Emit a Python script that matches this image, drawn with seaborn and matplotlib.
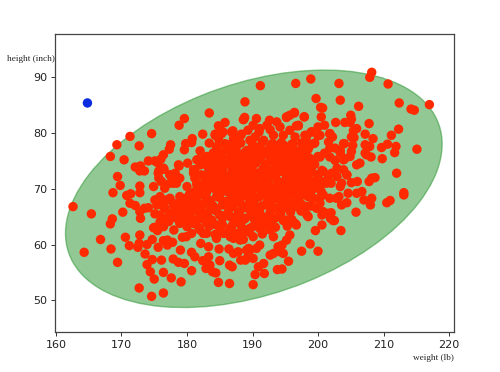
import matplotlib
matplotlib.use('Agg')
import matplotlib.pyplot as plt
from matplotlib.patches import Ellipse
import seaborn as sns

# outlier point, drawn in blue
blue_weight = [164.8]
blue_height = [85.4]

# points, same order in both lists
red_weight = [
    188.85, 183.4, 179.6, 178.8, 174.6, 171.3, 169.3, 172.7, 168.3, 170.4,
    180.8, 182.4, 179.8, 180.7, 179.6, 183.4, 177.5, 177.3, 182.0, 176.4,
    176.0, 175.1, 174.1, 175.5, 172.9, 172.1, 172.8, 173.5, 176.5, 175.7,
    178.8, 180.1, 169.4, 169.8, 175.7, 176.1, 177.4, 178.2, 172.8, 174.9,
    177.4, 178.4, 185.0, 185.8, 184.8, 187.0, 188.7, 188.8, 185.5, 184.3,
    184.8, 188.2, 187.3, 186.6, 186.1, 184.6, 185.3, 184.0, 182.2, 181.5,
    182.0, 183.0, 183.8, 183.3, 184.3, 185.0, 186.6, 186.8, 188.1, 186.1,
    187.6, 184.5, 181.2, 181.0, 181.5, 182.5, 184.0,
    191.2, 196.6, 198.9, 203.2, 208.2, 207.9, 210.7, 212.4, 217.0, 214.2,
    214.7, 199.7, 203.4, 200.4, 200.7, 206.2, 200.5, 197.9, 196.4, 195.7,
    195.2, 205.0, 205.1, 202.7, 204.1, 204.9, 207.8, 201.0, 200.0, 212.3,
    211.2, 205.9, 205.4, 197.0, 196.7, 207.2, 208.4, 205.1, 205.5, 201.8,
    202.2, 199.0, 198.3, 198.2, 200.0, 204.0, 205.3, 207.2, 207.9, 209.7,
    210.6, 211.9, 211.7, 215.1, 207.2, 207.4, 208.1, 209.8, 205.1, 204.9,
    206.4, 205.9, 212.0, 208.7, 208.2, 207.8, 205.1, 206.0, 198.8, 199.5,
    201.8, 202.6, 200.0, 201.0, 203.4, 203.9, 202.9, 202.1, 204.4, 203.9,
    201.3, 200.0, 203.6,
    162.6, 165.4, 170.2, 168.6, 168.3, 171.3, 172.1, 168.7, 170.8, 171.4,
    172.8, 172.8, 172.9, 173.5, 174.1, 175.1, 172.8, 170.6, 166.8, 171.2,
    168.4, 172.7, 172.5, 173.9, 174.7, 164.3, 169.4, 173.6, 175.6, 176.4,
    177.0, 177.0, 177.8, 179.0, 174.7, 173.9, 176.1, 177.9, 178.7, 179.6,
    174.4, 176.4, 175.0, 177.6, 179.1, 180.7, 172.7, 174.6, 176.4, 184.8,
    186.5, 180.7, 181.2, 182.4, 182.1, 183.3, 183.3, 183.5, 182.9, 183.9,
    184.4, 184.9, 185.0, 186.4, 186.5, 186.9, 187.1, 187.8, 188.2, 189.2,
    188.6, 189.4, 179.3, 179.9, 174.9, 175.5, 176.4, 178.0, 175.4, 175.9,
    176.9, 175.4, 176.4, 177.9, 175.9, 177.4, 176.4, 177.2, 184.5, 187.1,
    197.5, 200.0, 198.8, 195.5, 194.5, 193.8, 191.8, 190.4, 199.6, 200.6,
    203.5, 202.3, 201.9, 191.1, 193.2, 192.7, 194.2, 194.7, 194.5, 195.2,
    195.7, 193.9, 191.7, 190.9, 190.1, 189.1, 189.6, 188.9, 190.6, 196.7,
    198.5, 200.6, 201.6, 205.8, 190.1, 210.5, 211.0, 213.1, 213.1, 208.2,
    208.0, 207.0, 204.6, 205.9, 206.7, 203.2, 203.6, 204.4, 201.8, 202.0,
    202.5,
    188.6, 190.6, 190.1, 191.1, 192.6, 192.2, 193.7, 194.2, 195.2, 196.4,
    197.9, 195.7, 197.0, 198.0, 199.0, 200.3, 201.8, 199.3, 198.8, 201.6,
    203.9, 188.3, 190.4, 189.6, 191.7, 193.2, 194.7, 196.5, 191.1, 192.7,
    194.2, 195.7, 197.3, 198.0, 188.9, 189.4, 191.1, 190.4, 188.6, 190.1,
    191.9, 194.2, 195.7, 197.3, 198.8, 200.3, 201.8, 203.4, 204.1, 202.6,
    199.0, 200.8, 202.9, 204.4, 194.2, 195.7, 193.2, 191.7, 189.1, 194.7,
    197.2, 199.3, 203.4, 200.3, 188.6, 191.1, 193.7, 196.2, 198.3,
    191.5, 192.8, 193.5, 192.5, 190.7, 195.2, 196.5, 197.5, 198.2, 196.8,
    194.8, 193.2, 196.0, 197.5, 190.0, 189.0, 191.8, 194.5,
    181.7, 182.2, 183.5, 184.5, 184.0, 185.0, 186.6, 185.8, 187.1, 185.3,
    184.3, 186.8, 187.6, 183.3, 184.0, 185.0, 186.1, 186.8, 187.6, 181.0,
    181.2, 182.2, 183.5, 184.8, 186.3, 187.3, 178.7, 178.2, 177.4, 178.9,
    176.4, 175.6, 176.1, 177.9, 180.0, 181.5, 182.8, 184.3, 185.8, 187.6,
    176.6,
    175.1, 176.4, 177.4, 176.6, 177.9, 177.4, 178.4, 176.9, 175.9, 175.1,
    176.4, 180.7, 178.9, 179.7, 181.0, 182.0, 183.0, 185.6, 186.6, 187.6,
    178.9, 180.0, 179.2, 180.5, 181.5, 182.0, 183.3, 183.5, 184.5, 185.0,
    186.1, 186.6, 187.6, 187.8, 183.0, 184.5, 180.5, 182.0, 186.1, 187.6,
    181.5, 178.4, 186.6,
    188.6, 190.1, 191.7, 193.2, 194.7, 196.2, 197.8, 199.3, 200.8, 189.1,
    190.6, 192.2, 193.7, 195.2, 196.7, 198.3, 199.8, 188.9, 190.4, 191.9,
    193.4, 195.0, 196.5, 198.3, 189.6, 191.1, 192.7, 188.6, 190.1, 188.1,
    192.2, 200.3, 202.8, 200.8, 193.2,
]
red_height = [
    85.6, 83.6, 82.6, 81.4, 79.9, 79.4, 77.9, 77.7, 75.8, 75.2,
    79.0, 79.8, 78.1, 78.3, 77.0, 78.2, 77.9, 77.1, 76.8, 76.1,
    75.3, 75.0, 75.0, 74.7, 74.1, 73.9, 73.2, 73.2, 73.5, 73.2,
    74.1, 74.6, 72.2, 70.6, 71.9, 71.3, 72.5, 72.8, 70.5, 70.4,
    71.0, 71.0, 81.1, 81.9, 81.3, 80.4, 82.5, 82.8, 80.2, 79.8,
    79.0, 79.6, 79.0, 77.9, 77.9, 77.6, 76.5, 76.4, 75.2, 75.2,
    74.3, 74.6, 74.0, 72.9, 73.4, 73.1, 74.9, 74.0, 74.3, 72.2,
    71.6, 71.6, 73.4, 72.8, 71.0, 71.0, 70.7,
    88.5, 88.9, 89.7, 88.9, 90.9, 90.0, 88.8, 85.4, 85.1, 84.3,
    84.1, 86.2, 85.9, 84.6, 84.5, 84.8, 82.9, 82.9, 83.7, 83.2,
    82.8, 83.2, 82.5, 81.9, 81.9, 81.9, 81.7, 81.4, 81.1, 80.7,
    79.6, 80.8, 80.4, 81.4, 81.3, 79.8, 79.0, 79.3, 79.2, 79.9,
    79.3, 80.2, 79.6, 79.2, 79.5, 78.1, 77.8, 77.9, 77.6, 77.4,
    78.0, 77.6, 76.5, 77.1, 76.4, 76.1, 75.7, 75.4, 76.7, 75.8,
    74.6, 74.3, 72.8, 72.0, 71.9, 71.3, 71.1, 71.3, 77.9, 78.2,
    77.3, 77.3, 75.8, 76.4, 76.4, 75.2, 73.7, 72.8, 72.5, 73.4,
    71.0, 71.0, 71.0,
    66.8, 65.5, 65.8, 64.6, 63.7, 67.4, 67.0, 69.3, 68.8, 69.1,
    69.3, 65.9, 64.7, 66.5, 66.6, 65.5, 61.7, 61.3, 60.9, 59.8,
    59.2, 60.2, 59.5, 60.0, 60.9, 58.6, 56.8, 58.3, 59.5, 60.7,
    60.8, 59.9, 60.4, 59.0, 57.3, 56.4, 57.2, 57.4, 56.8, 56.6,
    55.1, 55.0, 53.8, 54.0, 53.3, 55.3, 52.2, 50.7, 51.3, 53.2,
    53.0, 58.6, 57.8, 57.1, 60.2, 59.6, 57.8, 56.3, 55.7, 55.1,
    54.9, 59.2, 57.1, 59.2, 56.3, 56.0, 58.4, 58.7, 57.2, 57.6,
    60.9, 59.3, 61.3, 61.4, 63.0, 62.5, 63.2, 62.6, 68.0, 68.6,
    68.0, 67.1, 66.8, 67.4, 65.3, 65.6, 64.4, 64.1, 61.1, 61.1,
    58.8, 58.8, 60.1, 57.0, 55.6, 55.5, 54.8, 54.6, 62.5, 63.5,
    62.5, 64.3, 64.7, 59.9, 58.4, 58.1, 58.7, 58.4, 59.9, 60.8,
    61.7, 59.6, 56.6, 56.0, 57.5, 59.0, 59.0, 57.2, 59.3, 63.5,
    65.0, 65.3, 65.6, 65.8, 52.8, 67.5, 67.9, 68.9, 69.3, 68.3,
    67.1, 68.0, 69.2, 69.2, 69.5, 68.6, 67.1, 67.5, 68.3, 65.7,
    64.3,
    82.4, 82.6, 81.4, 80.8, 82.3, 81.4, 82.0, 81.1, 82.9, 83.6,
    82.9, 80.5, 81.3, 79.6, 80.2, 79.6, 79.9, 78.1, 77.9, 78.4,
    78.1, 79.8, 79.3, 78.7, 78.7, 79.6, 79.6, 79.3, 77.5, 77.5,
    76.9, 76.4, 76.9, 75.8, 76.6, 75.4, 75.7, 74.6, 74.0, 73.1,
    74.0, 75.2, 74.9, 74.6, 75.4, 75.7, 75.7, 76.9, 75.4, 75.1,
    73.7, 73.1, 72.2, 72.5, 73.1, 73.4, 72.2, 71.6, 71.0, 71.0,
    71.6, 71.3, 70.4, 70.4, 72.2, 70.4, 70.4, 70.4, 70.1,
    76.3, 75.5, 74.3, 73.0, 72.2, 72.1, 73.0, 72.5, 73.2, 75.5,
    77.8, 78.0, 78.0, 78.2, 76.5, 73.5, 70.0, 69.8,
    75.2, 74.6, 75.8, 77.5, 76.3, 76.0, 76.7, 78.1, 79.0, 79.9,
    79.6, 80.2, 78.7, 74.0, 74.0, 73.4, 74.6, 74.9, 74.0, 73.4,
    71.9, 72.5, 72.2, 71.9, 71.6, 72.5, 74.3, 72.5, 72.5, 71.9,
    73.7, 72.8, 71.3, 71.0, 70.4, 70.7, 70.7, 70.4, 70.4, 70.7,
    70.1,
    68.0, 67.7, 68.3, 66.5, 67.1, 65.6, 66.2, 64.7, 64.1, 63.1,
    63.5, 62.0, 63.8, 64.7, 63.8, 62.6, 62.0, 62.0, 62.9, 62.0,
    68.6, 67.7, 66.2, 66.2, 67.4, 65.6, 68.0, 66.2, 68.6, 65.3,
    67.4, 65.0, 68.0, 65.6, 64.4, 63.5, 69.2, 69.2, 69.5, 69.5,
    64.4, 64.7, 61.4,
    69.2, 68.6, 69.2, 68.3, 68.9, 69.2, 68.9, 68.3, 68.9, 66.8,
    66.5, 67.1, 66.5, 67.1, 66.8, 66.8, 66.5, 64.7, 64.7, 64.4,
    64.7, 64.4, 63.8, 65.3, 62.9, 62.9, 62.6, 62.3, 61.4, 60.8,
    63.5, 67.4, 68.3, 65.9, 61.4,
]

# the solid middle of the cloud, where single points cannot be told apart
core_weight = [
    189.3, 191.0, 192.7,
    188.2, 190.0, 191.5, 193.0, 194.4, 196.2,
    186.0, 187.5, 189.2, 190.6, 192.0, 193.5, 195.0, 196.4, 198.5,
    183.0, 185.2, 186.9, 188.3, 189.8, 191.3, 192.6, 194.0, 195.3, 196.9, 198.6,
    182.5, 184.6, 185.9, 187.3, 188.9, 190.5, 192.0, 193.4, 194.9, 196.4, 198.0, 199.5,
    183.8, 185.5, 186.9, 188.2, 189.8, 191.3, 192.9, 194.6, 196.0, 197.7, 199.0, 200.6,
    182.8, 184.2, 186.0, 187.5, 189.3, 190.4, 192.0, 193.6, 195.2, 196.7, 198.4, 200.0, 201.5,
    183.2, 185.1, 186.7, 188.1, 189.7, 191.0, 192.5, 194.1, 195.6, 197.0, 198.8, 200.2, 202.0,
    181.3, 183.0, 184.8, 186.6, 188.0, 189.8, 191.2, 192.8, 194.3, 195.7, 197.3, 199.0, 200.5,
    179.8, 181.6, 183.0, 185.0, 186.6, 188.2, 189.5, 191.0, 192.4, 194.0, 195.6, 197.0, 198.6, 200.2,
    178.2, 180.7, 182.4, 184.0, 185.4, 187.0, 188.5, 190.0, 191.4, 192.9, 194.4, 196.0, 197.5, 199.0,
    178.8, 180.2, 181.7, 183.2, 184.5, 186.2, 188.0, 189.7, 191.1, 192.7, 194.3, 195.8, 197.4,
    179.0, 180.7, 182.2, 183.8, 185.4, 187.2, 188.7, 190.2, 191.6, 193.0, 194.7, 196.0,
    180.0, 181.8, 183.4, 185.0, 186.9, 188.4, 190.0, 191.8, 193.5, 195.3,
    182.5, 184.3, 186.0, 188.0, 189.5, 191.5,
    184.5, 187.8, 190.8, 193.2, 195.9,
    183.8, 186.2, 188.1, 190.9, 193.1, 195.6, 197.8,
    183.2, 185.0, 187.6, 189.5, 191.7, 194.2, 196.7, 198.6,
    184.9, 187.0, 189.0, 191.1, 193.3, 195.4, 197.6, 199.8,
    183.5, 185.8, 187.8, 189.9, 191.9, 194.6, 196.3, 198.1, 200.5,
    182.2, 184.2, 186.2, 188.9, 190.6, 192.8, 195.0, 197.6, 199.5,
    180.4, 182.8, 184.9, 187.2, 189.1, 191.3, 193.7, 196.0, 198.2,
    179.0, 181.2, 183.6, 185.8, 188.0, 190.2, 192.2, 194.6, 196.8,
    179.9, 182.1, 184.2, 186.4, 188.8, 191.0, 193.0, 195.2,
    180.5, 183.1, 185.2, 187.6, 189.8, 192.0, 194.0,
    183.0, 185.4, 187.8, 190.5, 192.6,
]
core_height = [
    80.5, 80.2, 80.6,
    78.2, 78.0, 78.4, 78.1, 78.3, 78.0,
    77.0, 77.2, 76.9, 77.1, 76.8, 77.2, 77.0, 76.8, 77.1,
    75.8, 75.6, 75.9, 75.7, 75.9, 75.6, 75.8, 76.0, 75.7, 75.9, 75.6,
    74.5, 74.7, 74.4, 74.6, 74.3, 74.6, 74.4, 74.7, 74.5, 74.3, 74.6, 74.4,
    73.3, 73.1, 73.4, 73.2, 73.5, 73.1, 73.3, 73.5, 73.2, 73.4, 73.1, 73.3,
    72.0, 72.2, 71.9, 72.1, 71.8, 72.1, 72.0, 71.8, 72.1, 71.9, 72.2, 72.0, 71.8,
    70.8, 70.6, 70.9, 70.7, 71.0, 70.6, 70.8, 71.0, 70.7, 70.9, 70.6, 70.8, 71.0,
    69.6, 69.4, 69.7, 69.5, 69.8, 69.5, 69.7, 69.4, 69.6, 69.8, 69.5, 69.7, 69.5,
    68.3, 68.5, 68.2, 68.4, 68.1, 68.4, 68.2, 68.5, 68.3, 68.1, 68.4, 68.2, 68.5, 68.3,
    67.0, 66.8, 67.2, 66.9, 67.1, 66.8, 67.0, 67.2, 66.9, 67.1, 66.8, 67.0, 67.2, 66.9,
    65.8, 65.6, 65.9, 65.7, 66.0, 65.6, 65.8, 66.0, 65.7, 65.9, 65.6, 65.8, 66.0,
    64.5, 64.3, 64.6, 64.4, 64.7, 64.3, 64.5, 64.7, 64.4, 64.6, 64.3, 64.5,
    63.2, 63.0, 63.3, 63.1, 63.4, 63.0, 63.2, 63.4, 63.1, 63.3,
    62.0, 61.8, 62.1, 61.9, 62.2, 61.9,
    76.4, 76.2, 76.5, 76.3, 76.6,
    75.1, 75.3, 75.0, 75.2, 74.9, 75.2, 75.0,
    73.9, 74.1, 73.8, 74.0, 73.7, 74.0, 73.8, 74.1,
    72.7, 72.5, 72.8, 72.6, 72.9, 72.6, 72.8, 72.5,
    71.4, 71.2, 71.5, 71.3, 71.6, 71.2, 71.4, 71.6, 71.3,
    70.2, 70.0, 70.3, 70.1, 70.4, 70.0, 70.2, 70.4, 70.1,
    69.0, 68.8, 69.1, 68.9, 69.2, 68.8, 69.0, 69.2, 68.9,
    67.6, 67.8, 67.5, 67.7, 67.4, 67.7, 67.5, 67.8, 67.6,
    66.4, 66.2, 66.5, 66.3, 66.6, 66.2, 66.4, 66.6,
    65.1, 64.9, 65.2, 65.0, 65.3, 64.9, 65.1,
    63.8, 63.6, 63.9, 63.7, 64.0,
]

# ellipse drawn around the cloud
center = (190.2, 70.0)
ell_width = 61.2
ell_height = 37.1
ell_angle = 25.5

sns.set_style('ticks')
fig, ax = plt.subplots(figsize=(5, 3.72), dpi=100)
fig.subplots_adjust(left=0.11, right=0.908, bottom=0.1075, top=0.909)

ax.add_patch(Ellipse(center, ell_width, ell_height, angle=ell_angle,
                     facecolor='#25932b', edgecolor='#25932b', alpha=0.5, lw=1))
sns.scatterplot(x=red_weight + core_weight, y=red_height + core_height,
                color='#ff2a00', s=46, linewidth=0, edgecolor='none', alpha=1, ax=ax, zorder=3)
sns.scatterplot(x=blue_weight, y=blue_height, color='#0a2be0', s=46, linewidth=0,
                edgecolor='none', alpha=1, ax=ax, zorder=3)

ax.set_xlim(159.85, 220.76)
ax.set_ylim(44.3, 97.8)
ax.set_xticks([160, 170, 180, 190, 200, 210, 220])
ax.set_yticks([50, 60, 70, 80, 90])
ax.tick_params(labelsize=8, length=2.7, width=0.7, pad=2.7, color='#333333', labelcolor='#222222')
for s in ax.spines.values():
    s.set_linewidth(0.9)
    s.set_color('#444444')

ax.set_xlabel('weight (lb)', family='Liberation Serif', fontsize=6.7, color='#222222', ha='right', va='center')
ax.xaxis.set_label_coords(1.0, -0.087)
ax.set_ylabel('height (inch)', family='Liberation Serif', fontsize=6.7, color='#222222',
              rotation=0, ha='right', va='center')
ax.yaxis.set_label_coords(0.0, 0.916)

fig.savefig('out.png', dpi=100)
